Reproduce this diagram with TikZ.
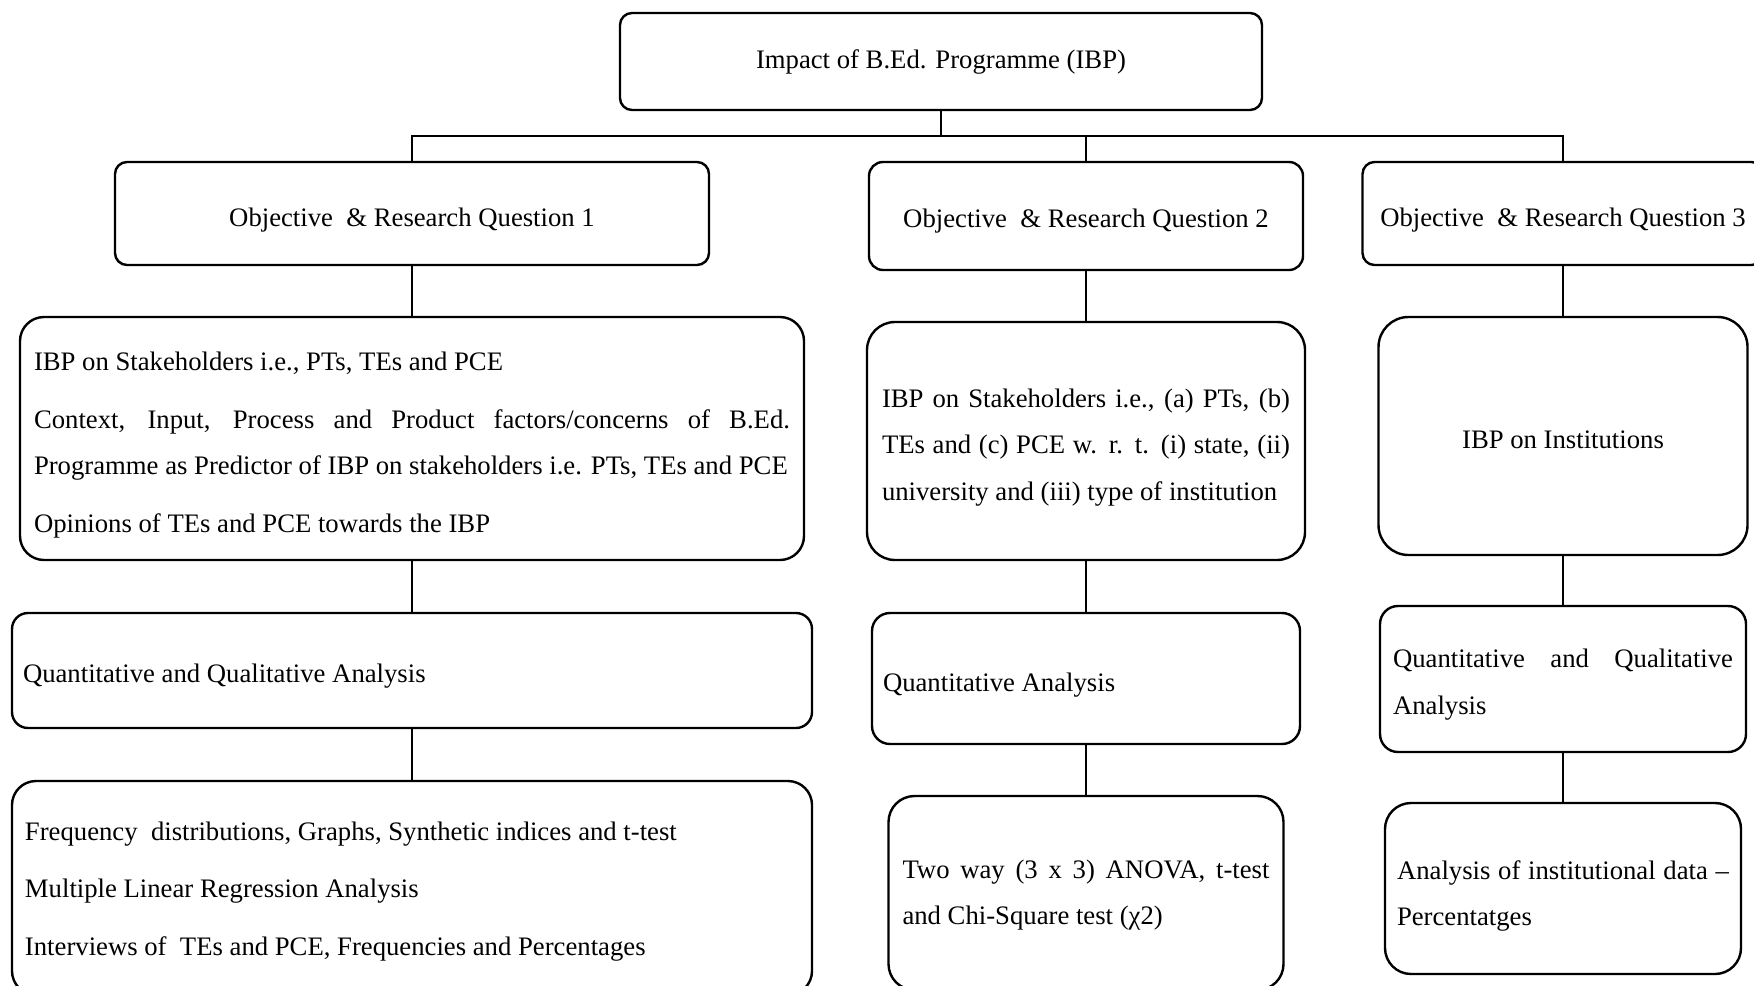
\documentclass[tikz,border=0pt]{standalone}
\usepackage{fontspec}
\setmainfont{Liberation Serif}
\begin{document}
\begin{tikzpicture}[x=0.5pt,y=-0.5pt,
  every node/.style={font=\fontsize{13.35pt}{23.25pt}\selectfont},
  box/.style={draw, line width=1.2pt, rounded corners=#1, inner ysep=0pt, align=justify},
  box/.default=6pt,
  headbox/.style={box=#1, align=center, inner xsep=0pt},
  headbox/.default=6pt,
  paras/.style={execute at begin node={\setlength{\parskip}{5.5pt}}},
  sink/.style={execute at begin node={\rule{0pt}{#1}}},
  link/.style={line width=1.2pt}]
\useasboundingbox (0,0) rectangle (1754,985);

% root
\node[headbox, minimum width=321pt, minimum height=48.5pt] (top) at (941,61.5)
  {Impact of B.Ed. Programme (IBP)};

% objectives
\node[headbox, sink=15.8pt, minimum width=297pt, minimum height=51.5pt] (q1) at (412,213.5)
  {Objective\ \ \& Research Question 1};
\node[headbox=7pt, sink=14.7pt, minimum width=217pt, minimum height=54pt] (q2) at (1086,216)
  {Objective\ \ \& Research Question 2};
\node[headbox, sink=15.8pt, minimum width=200.5pt, minimum height=51.5pt] (q3) at (1563,213.5)
  {Objective\ \ \& Research Question 3};

% focus of each objective
\node[box=12pt, paras, sink=15.8pt, minimum width=392pt, minimum height=121.5pt, inner xsep=7pt, text width=378pt] (b1) at (412,438.5)
  {IBP on Stakeholders i.e., PTs, TEs and PCE\par
   Context, Input, Process and Product factors/concerns of B.Ed.\linebreak
   Programme as Predictor of IBP on stakeholders i.e. PTs, TEs and PCE\par
   Opinions of TEs and PCE towards the IBP};
\node[box=14pt, sink=15.8pt, minimum width=219pt, minimum height=119pt, inner xsep=7.5pt, text width=204pt] (b2) at (1086,441)
  {IBP on Stakeholders i.e., (a) PTs, (b)\linebreak
   TEs and (c) PCE w. r. t. (i) state, (ii)\linebreak
   university and (iii) type of institution};
\node[headbox=15pt, sink=12.3pt, minimum width=184.5pt, minimum height=119pt] (b3) at (1563,436)
  {IBP on Institutions};

% type of analysis
\node[box=8pt, sink=14.7pt, minimum width=400pt, minimum height=57.5pt, inner xsep=5.5pt, text width=389pt] (c1) at (412,670.5)
  {Quantitative and Qualitative Analysis};
\node[box=9pt, sink=15.8pt, minimum width=214pt, minimum height=65.5pt, inner xsep=5.5pt, text width=203pt] (c2) at (1086,678.5)
  {Quantitative Analysis};
\node[box=9pt, sink=14.7pt, minimum width=183pt, minimum height=73pt, inner xsep=6.5pt, text width=170pt] (c3) at (1563,679)
  {Quantitative and Qualitative\linebreak Analysis};

% techniques
\node[box=12pt, paras, sink=12.5pt, minimum width=400pt, minimum height=107pt, inner xsep=6.5pt, text width=387pt] (d1) at (412,888)
  {Frequency\ \ distributions, Graphs, Synthetic indices and t-test\par
   Multiple Linear Regression Analysis\par
   Interviews of\ \ TEs and PCE, Frequencies and Percentages};
\node[box=13pt, sink=11.3pt, minimum width=197.5pt, minimum height=97pt, inner xsep=7pt, text width=183.5pt] (d2) at (1086,893)
  {Two way (3 x 3) ANOVA, t-test\linebreak and Chi-Square test (χ2)};
\node[box=13pt, sink=16.9pt, minimum width=178pt, minimum height=85.5pt, inner xsep=6pt, text width=166pt] (d3) at (1563,888.5)
  {Analysis of institutional data –\linebreak Percentatges};

% connectors
\coordinate (bus) at (941,136);
\draw[link] (top.south) -- (bus);
\draw[link] (q1.north) |- (bus) -| (q3.north);
\draw[link] (q2.north) -- (q2.north |- bus);
\foreach \a/\b in {q1/b1,b1/c1,c1/d1,q2/b2,b2/c2,c2/d2,q3/b3,b3/c3,c3/d3}
  \draw[link] (\a.south) -- (\b.north);
\end{tikzpicture}
\end{document}
